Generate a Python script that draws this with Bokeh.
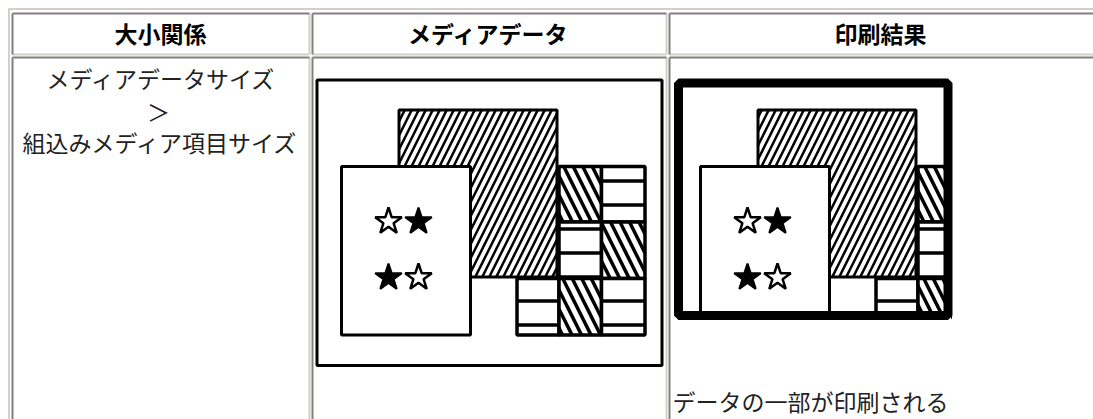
from bokeh.plotting import figure
from bokeh.models import Range1d, ColumnDataSource
from bokeh.core.properties import value
from bokeh.embed import file_html
from bokeh.resources import INLINE

# ---------------- content ----------------
headers = ["大小関係", "メディアデータ", "印刷結果"]
header_x = [160, 488, 880]
relation_lines = ["メディアデータサイズ", "＞", "組込みメディア項目サイズ"]
relation_y = [77, 110, 141]
result_note = "データの一部が印刷される"

# table grid (page px)
col_left = [12, 312, 669]
col_right = [309, 666, 1100]
row_top = [13, 57]
row_bottom = [54, 440]

# diagram pieces of the "media data" cell (page px, line centres)
big_box = [398.5, 556.5, 109.5, 276.5]     # left, right, top, bottom
star_box = [341, 470, 166, 334.5]
tile_left = [558.5, 601, 558.5, 601, 516.5, 558.5, 601]
tile_right = [601, 644.5, 601, 644.5, 558.5, 601, 644.5]
tile_top = [166, 166, 221.5, 221.5, 278, 278, 278]
tile_bottom = [221.5, 221.5, 278, 278, 334.5, 334.5, 334.5]
tile_hatch = ["\\", "-", "-", "\\", "-", "\\", "-"]
star_x = [388, 418, 388, 418]
star_y = [221, 221, 277, 277]
star_filled = [False, True, True, False]

media_frame = [316.5, 661.5, 79.5, 365]
print_shift = 359
print_frame = [678, 947.5, 82.5, 315]

GRAY = "#808080"
LIGHT = "#d4d0c8"
FONT = value("Noto Sans CJK JP")

p = figure(width=1093, height=419, x_range=Range1d(0, 1093), y_range=Range1d(419, 0),
           output_backend="svg", toolbar_location=None, min_border=0,
           x_axis_type=None, y_axis_type=None,
           background_fill_color="white", border_fill_color="white",
           outline_line_color=None)
p.grid.visible = False


def draw_diagram(dx):
    p.quad(left=[big_box[0] + dx], right=[big_box[1] + dx], top=[big_box[2]], bottom=[big_box[3]],
           fill_color="white", line_color="black", line_width=3,
           hatch_pattern="/", hatch_color="black", hatch_scale=14, hatch_weight=2.5)
    p.quad(left=[star_box[0] + dx], right=[star_box[1] + dx], top=[star_box[2]], bottom=[star_box[3]],
           fill_color="white", line_color="black", line_width=3)
    src = ColumnDataSource(dict(
        l=[v + dx for v in tile_left], r=[v + dx for v in tile_right],
        t=tile_top, b=tile_bottom, h=tile_hatch,
        s=[19 if h == "\\" else 24 for h in tile_hatch],
        w=[3.5 for _ in tile_hatch]))
    p.quad(left="l", right="r", top="t", bottom="b", source=src,
           fill_color="white", line_color="black", line_width=3.5,
           hatch_pattern="h", hatch_color="black", hatch_scale="s", hatch_weight="w")
    sx = [v + dx for v in star_x]
    fx = [x for x, f in zip(sx, star_filled) if f]
    fy = [y for y, f in zip(star_y, star_filled) if f]
    ox = [x for x, f in zip(sx, star_filled) if not f]
    oy = [y for y, f in zip(star_y, star_filled) if not f]
    p.scatter(fx, fy, marker="star", size=28, fill_color="black", line_color="black", line_width=2)
    p.scatter(ox, oy, marker="star", size=28, fill_color="white", line_color="black", line_width=2.5)


# media data cell
draw_diagram(0)
p.quad(left=[media_frame[0]], right=[media_frame[1]], top=[media_frame[2]], bottom=[media_frame[3]],
       fill_color=None, line_color="black", line_width=3)

# print result cell (same layout, clipped by a thick frame)
draw_diagram(print_shift)
p.quad(left=[print_frame[1] + 4, print_frame[0] - 4], right=[1093, print_frame[1] + 4],
       top=[60, print_frame[3] + 4], bottom=[380, 380],
       fill_color="white", line_color=None)
p.quad(left=[print_frame[0]], right=[print_frame[1]], top=[print_frame[2]], bottom=[print_frame[3]],
       fill_color=None, line_color="black", line_width=9)

# table borders
p.segment(x0=[8, 8.5], y0=[8.5, 8], x1=[1093, 8.5], y1=[8.5, 420], line_color=LIGHT, line_width=2)
gx0, gy0, gx1, gy1, lx0, ly0, lx1, ly1 = [], [], [], [], [], [], [], []
for t, b in zip(row_top, row_bottom):
    for l, r in zip(col_left, col_right):
        gx0 += [l, l]; gy0 += [t, t]; gx1 += [r, l]; gy1 += [t, b]
        lx0 += [r, l]; ly0 += [t, b]; lx1 += [r, r]; ly1 += [b, b]
p.segment(x0=lx0, y0=ly0, x1=lx1, y1=ly1, line_color=LIGHT, line_width=2)
p.segment(x0=gx0, y0=gy0, x1=gx1, y1=gy1, line_color=GRAY, line_width=2)

# texts
p.text(x=header_x, y=[32, 32, 32], text=headers, text_font=FONT, text_font_size="23px",
       text_font_style="bold", text_align="center", text_baseline="middle", text_color="black")
p.text(x=[161, 158, 160], y=relation_y, text=relation_lines, text_font=FONT, text_font_size="23px",
       text_align="center", text_baseline="middle", text_color="#222222")
p.text(x=[672], y=[400], text=[result_note], text_font=FONT, text_font_size="23px",
       text_align="left", text_baseline="middle", text_color="#222222")

open("out.html", "w").write(file_html(p, INLINE))
